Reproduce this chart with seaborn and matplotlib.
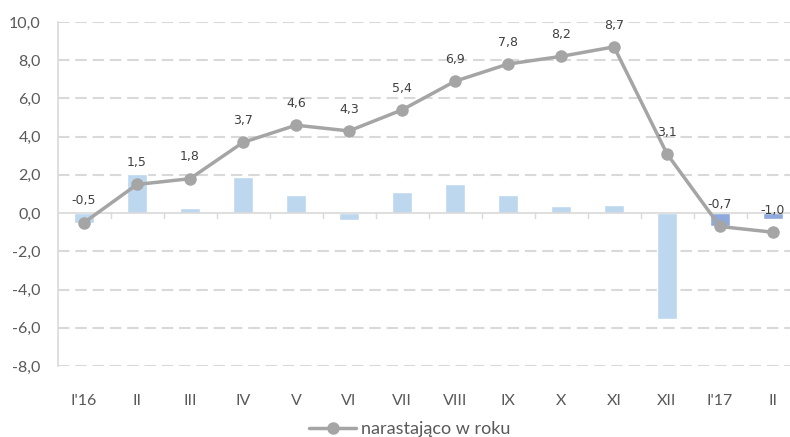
import numpy as np
import pandas as pd
import matplotlib
matplotlib.use("Agg")
import matplotlib.pyplot as plt
import seaborn as sns

# Monthly periods
months = ["I'16", "II", "III", "IV", "V", "VI", "VII", "VIII", "IX", "X", "XI", "XII", "I'17", "II"]
# Month-on-month change (bars)
monthly = [-0.5, 2.05, 0.25, 1.9, 0.95, -0.35, 1.1, 1.5, 0.95, 0.35, 0.45, -5.55, -0.7, -0.3]
# Cumulative change within the year (line)
cumulative = [-0.5, 1.5, 1.8, 3.7, 4.6, 4.3, 5.4, 6.9, 7.8, 8.2, 8.7, 3.1, -0.7, -1.0]
# Bar colours: 2016 vs 2017
bar_colors = ["#BDD7EE"] * 12 + ["#8EA9DB"] * 2
y_ticks = [-8, -6, -4, -2, 0, 2, 4, 6, 8, 10]
line_label = "narastająco w roku"

sns.set_theme(style="white")
plt.rcParams["font.family"] = ["Lato", "DejaVu Sans"]

fig = plt.figure(figsize=(7.9, 4.37), dpi=100)
ax = fig.add_axes([57.5 / 790, 1 - 366 / 437, 742 / 790, 344 / 437])

df = pd.DataFrame({"pos": np.arange(len(months)), "monthly": monthly,
                   "cumulative": cumulative, "key": [f"{i}" for i in range(len(months))]})

sns.barplot(data=df, x="key", y="monthly", hue="key", palette=bar_colors,
            width=0.38, legend=False, ax=ax, saturation=1, zorder=2)

sns.lineplot(data=df, x="pos", y="cumulative", color="#A5A5A5", linewidth=2.5,
             marker="o", markersize=9, markeredgewidth=0, label=line_label,
             ax=ax, zorder=4, legend=False)

for i, v in enumerate(cumulative):
    ax.annotate(f"{v:.1f}".replace(".", ","), (i, v), xytext=(0, 11),
                textcoords="offset points", ha="center", va="bottom",
                fontsize=9, color="#404040", family="DejaVu Sans", zorder=5)

ax.set_xlim(-0.5, len(months) - 0.5)
ax.set_ylim(-8, 10)
ax.set_yticks(y_ticks)
ax.set_yticklabels([f"{t:.1f}".replace(".", ",") for t in y_ticks],
                   fontsize=11.5, color="#595959")
ax.set_xticks(np.arange(len(months)))
ax.set_xticklabels(months, fontsize=11.5, color="#595959")
ax.tick_params(axis="both", length=0, pad=12)
ax.tick_params(axis="x", pad=20)
ax.set_xlabel("")
ax.set_ylabel("")

# dashed horizontal grid (except at zero)
for t in y_ticks:
    if t != 0:
        ax.axhline(t, color="#D9D9D9", linewidth=1.5, linestyle=(0, (5.5, 2.8)), zorder=1)
ax.axhline(0, color="#D9D9D9", linewidth=1.2, zorder=3)
# category separator ticks on the zero line
for b in np.arange(0.5, len(months) - 0.5, 1.0):
    ax.plot([b, b], [0, -0.25], color="#D9D9D9", linewidth=1.0, zorder=3, clip_on=False)

for s in ["top", "right", "bottom"]:
    ax.spines[s].set_visible(False)
ax.spines["left"].set_color("#D9D9D9")
ax.spines["left"].set_linewidth(1.2)

handles, labels = ax.get_legend_handles_labels()
fig.legend(handles, labels, loc="center", bbox_to_anchor=(410 / 790, 1 - 429 / 437),
           frameon=False, fontsize=13, labelcolor="#595959", handlelength=2.6,
           handletextpad=0.28)

fig.savefig("out.png", dpi=100)
